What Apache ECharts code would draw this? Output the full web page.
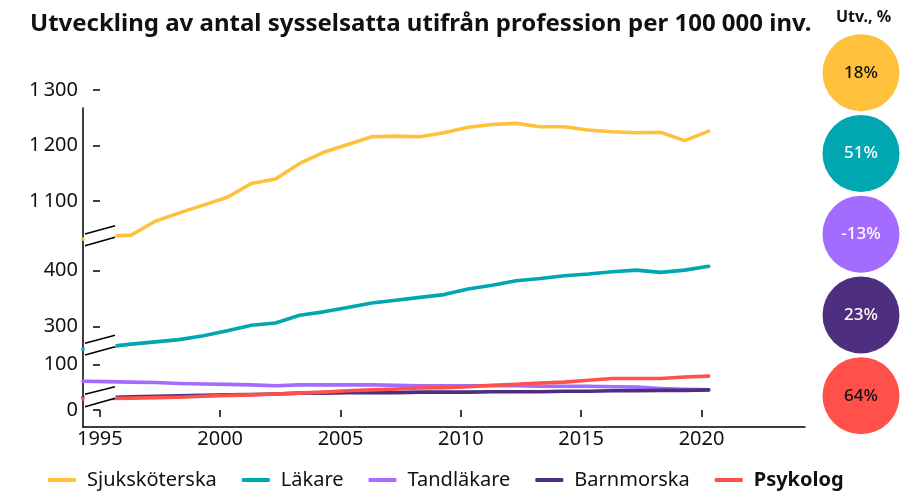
<!DOCTYPE html>
<html>
<head>
<meta charset="utf-8">
<script src="https://cdn.jsdelivr.net/npm/echarts@6/dist/echarts.min.js"></script>
<style>
  html, body { margin: 0; padding: 0; background: #fff; }
  #chart { width: 914px; height: 494px; }
</style>
</head>
<body>
<div id="chart"></div>
<script>
// data
const years = [1994, 1995, 1996, 1997, 1998, 1999, 2000, 2001, 2002, 2003, 2004, 2005, 2006, 2007,
  2008, 2009, 2010, 2011, 2012, 2013, 2014, 2015, 2016, 2017, 2018, 2019, 2020]
const sjukskoterska = [1032, 1037, 1039, 1064, 1079, 1093, 1107, 1132, 1140, 1168, 1188, 1202, 1216, 1217,
  1216, 1223, 1233, 1238, 1240, 1234, 1234, 1228, 1225, 1223, 1224, 1209, 1226]
const lakare = [259, 263, 268, 272, 276, 283, 292, 302, 306, 320, 326, 334, 342, 347,
  352, 357, 367, 374, 382, 386, 391, 394, 398, 401, 397, 401, 408]
const tandlakare = [63, 62, 61, 60, 58, 57, 56, 55, 53, 55, 55, 55, 55, 54,
  53, 53, 53, 53, 53, 52, 52, 52, 51, 50, 47, 45, 44]
const barnmorska = [28, 27, 29, 30, 31, 32, 33, 34, 35, 37, 37, 38, 38, 38,
  39, 39, 39, 40, 40, 40, 41, 41, 42, 42, 43, 43, 44]
const psykolog = [24, 25, 26, 27, 28, 30, 32, 33, 35, 37, 39, 42, 44, 46,
  48, 49, 51, 54, 56, 59, 61, 65, 69, 69, 69, 72, 74]

const names = ['Sjuksköterska', 'Läkare', 'Tandläkare', 'Barnmorska', 'Psykolog']
const utveckling = [18, 51, -13, 23, 64]

const xTicks = [1995, 2000, 2005, 2010, 2015, 2020]
const topTicks = [1100, 1200, 1300]
const midTicks = [300, 400]
const lowTicks = [0, 100]

const colors = ['#ffc13b', '#00a6b0', '#a36cff', '#4e2e7e', '#ff504a']
const circleText = ['#111', '#fff', '#fff', '#fff', '#111']

const FONT = '"Noto Sans", sans-serif'
const L = 83, R = 109

const chart = echarts.init(document.getElementById('chart'))

const fmtNum = v => {
  const s = String(v)
  return s.length > 3 ? s.slice(0, s.length - 3) + '\u2009' + s.slice(-3) : s
}

const dataYAxis = (grid, min, max, ticks) => ({
  type: 'value', gridIndex: grid, min, max, offset: -10,
  axisLine: { show: false },
  axisTick: { show: true, inside: true, length: 7, customValues: ticks, lineStyle: { color: '#000', width: 1.5 } },
  axisLabel: { customValues: ticks, margin: 15, fontSize: 20, color: '#111', fontFamily: FONT, formatter: fmtNum },
  splitLine: { show: false }
})
const dataXAxis = grid => ({ type: 'value', gridIndex: grid, min: 1994, max: 2024, show: false })

const lineSeries = (name, values, idx, grid) => ({
  name, type: 'line', xAxisIndex: grid, yAxisIndex: grid,
  data: years.map((y, i) => [y, values[i]]),
  symbol: 'none', z: 2 + idx,
  lineStyle: { width: 3.6, color: colors[idx], cap: 'round', join: 'round' },
  itemStyle: { color: colors[idx] }
})

// break marks on the left side
const breaks = [[234, 225.7, 245.7, 237.3], [343.3, 335.3, 355, 346.7], [394.3, 386.7, 406.7, 398.3]]
const graphics = []
breaks.forEach(b => {
  graphics.push({
    type: 'polygon', z: 100,
    shape: { points: [[84.5, b[0]], [115.5, b[1]], [115.5, b[3]], [84.5, b[2]]] },
    style: { fill: '#fff' }
  })
  graphics.push({ type: 'line', z: 101, shape: { x1: 85, y1: b[0], x2: 115, y2: b[1] }, style: { stroke: '#000', lineWidth: 1.5 } })
  graphics.push({ type: 'line', z: 101, shape: { x1: 85, y1: b[2], x2: 115, y2: b[3] }, style: { stroke: '#000', lineWidth: 1.5 } })
})

const option = {
  animation: false,
  textStyle: { fontFamily: FONT },
  title: [
    {
      text: 'Utveckling av antal sysselsatta utifrån profession per 100 000 inv.',
      left: 25, top: 7,
      textStyle: { fontSize: 24, fontWeight: 'bold', color: '#111', fontFamily: FONT }
    },
    {
      text: 'Utv., %',
      left: 831, top: 4,
      textStyle: { fontSize: 16, fontWeight: 'bold', color: '#111', fontFamily: FONT }
    }
  ],
  legend: {
    left: 48, bottom: 4, padding: 0,
    icon: 'roundRect', itemWidth: 28, itemHeight: 4, itemGap: 25,
    textStyle: { fontSize: 20, color: '#111', fontFamily: FONT, padding: [0, 0, 0, 6] },
    data: names.map((n, i) => i === 4 ? { name: n, textStyle: { fontWeight: 'bold' } } : n)
  },
  grid: [
    { left: L, right: R, top: 90, height: 166.8 },     // 1000 - 1300
    { left: L, right: R, top: 242.9, height: 139 },    // 200 - 450
    { left: L, right: R, top: 341.4, height: 68.6 },   // 0 - 150
    { left: L, right: R, top: 108, height: 319 },      // frame
    { left: L, right: R, top: 300, height: 110 },      // x ticks
    { left: 851, width: 20, top: 32.3, height: 403.75 } // circles
  ],
  xAxis: [
    dataXAxis(0), dataXAxis(1), dataXAxis(2),
    {
      type: 'value', gridIndex: 3, min: 1994.3, max: 2024.3,
      axisLine: { show: true, lineStyle: { color: '#000', width: 1.5 } },
      axisTick: { show: false },
      axisLabel: { customValues: xTicks, margin: 2, fontSize: 20, color: '#111', fontFamily: FONT, formatter: v => String(v) },
      splitLine: { show: false }
    },
    {
      type: 'value', gridIndex: 4, min: 1994.3, max: 2024.3,
      axisLine: { show: false },
      axisTick: { show: true, length: 7, customValues: xTicks, lineStyle: { color: '#000', width: 1.5 } },
      axisLabel: { show: false },
      splitLine: { show: false }
    },
    { type: 'value', gridIndex: 5, min: 0, max: 1, show: false }
  ],
  yAxis: [
    dataYAxis(0, 1000, 1300, topTicks),
    dataYAxis(1, 200, 450, midTicks),
    dataYAxis(2, 0, 150, lowTicks),
    {
      type: 'value', gridIndex: 3, min: 0, max: 1,
      axisLine: { show: true, lineStyle: { color: '#000', width: 1.5 } },
      axisTick: { show: false }, axisLabel: { show: false }, splitLine: { show: false }
    },
    { type: 'value', gridIndex: 4, show: false },
    { type: 'category', gridIndex: 5, data: names, inverse: true, show: false }
  ],
  series: [
    lineSeries(names[0], sjukskoterska, 0, 0),
    lineSeries(names[1], lakare, 1, 1),
    lineSeries(names[2], tandlakare, 2, 2),
    lineSeries(names[3], barnmorska, 3, 2),
    lineSeries(names[4], psykolog, 4, 2),
    {
      type: 'scatter', xAxisIndex: 5, yAxisIndex: 5,
      symbolSize: 77, silent: true,
      data: utveckling.map((v, i) => ({
        value: [0.5, i],
        itemStyle: { color: colors[i], opacity: 1 },
        label: { color: circleText[i] }
      })),
      itemStyle: { opacity: 1 },
      label: {
        show: true, position: 'inside', fontSize: 17, fontWeight: 500, fontFamily: FONT,
        formatter: p => utveckling[p.dataIndex] + '%'
      }
    }
  ],
  graphic: graphics
}

chart.setOption(option)
</script>
</body>
</html>
